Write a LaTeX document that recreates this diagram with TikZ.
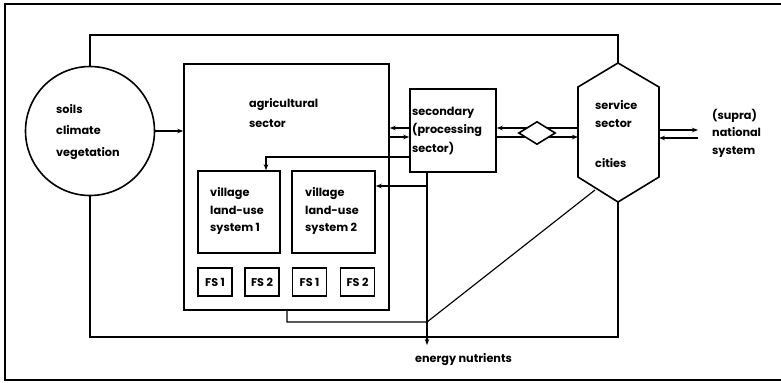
\documentclass[tikz,border=0pt]{standalone}
\usepackage{fontspec}
\setmainfont{Poppins}
\usetikzlibrary{shapes.geometric,arrows.meta}
\begin{document}
\begin{tikzpicture}[x=1bp,y=-1bp,
  box/.style={draw,line width=1.6pt,inner sep=0pt},
  conn/.style={line width=1.15pt},
  arr/.style={conn,-{Stealth[length=6bp,width=4.5bp]}},
  lbl/.style={font=\fontsize{11.3}{20}\selectfont\bfseries,align=left,inner sep=0pt},
  fsbox/.style={box,minimum width=34bp,minimum height=28bp,font=\fontsize{11.3}{12}\selectfont\bfseries}]
\useasboundingbox (0,0) rectangle (781,382);
% frame
\draw[line width=2pt] (781,4) -- (5,4) -- (5,380) -- (781,380);
% circle
\node[draw,line width=1.6pt,circle,minimum size=129bp,inner sep=0pt] (env) at (90,131) {};
\node[lbl,anchor=west,font=\fontsize{11.3}{22}\selectfont\bfseries] (envt) at (56,132) {soils\\climate\\vegetation};
% agricultural sector
\node[box,minimum width=205bp,minimum height=246bp] (agri) at (286.5,187) {};
\node[lbl,anchor=west] (agrit) at (249,113) {agricultural\\sector};
% villages
\node[box,minimum width=82bp,minimum height=82bp] (v1) at (239,212) {};
\node[lbl,anchor=west] (v1t) at (210,211) {village\\[-2.5bp]land-use\\[-2.5bp]system 1};
\node[box,minimum width=83bp,minimum height=82bp] (v2) at (333.5,212) {};
\node[lbl,anchor=west] (v2t) at (305,211) {village\\[-2.5bp]land-use\\[-2.5bp]system 2};
% farming systems
\node[fsbox] (fa) at (215,282) {FS 1};
\node[fsbox] (fb) at (262,282) {FS 2};
\node[fsbox] (fc) at (309.5,282) {FS 1};
\node[fsbox] (fd) at (357.5,282) {FS 2};
% secondary
\node[box,minimum width=86bp,minimum height=83bp] (sec) at (453,130.5) {};
\node[lbl,anchor=west,font=\fontsize{11.3}{19}\selectfont\bfseries] (sect) at (412,131) {secondary\\(processing\\sector)};
% hexagon
\coordinate (ht) at (618,63);
\coordinate (hb) at (618,202);
\draw[line width=1.6pt] (ht) -- (659,87) -- (659,177) -- (hb) -- (578,177) -- (578,87) -- cycle;
\coordinate (hl) at (578,132);
\coordinate (hr) at (659,132);
\coordinate (hdl) at (595,190);
\node[lbl,anchor=west,font=\fontsize{11.3}{19}\selectfont\bfseries] (servt) at (595,114) {service\\sector};
\node[lbl,anchor=west] (cityt) at (595,163) {cities};
% supra
\node[lbl,anchor=west,font=\fontsize{11.3}{17.5}\selectfont\bfseries] (supt) at (712,133) {(supra)\\national\\system};
% connectors
\draw[arr] (env.east) -- (env.east -| agri.west);
\draw[conn] (env.north) |- (ht |- 0,35) -- (ht);
\draw[conn] (env.south) |- (hb |- 0,337) -- (hb);
\draw[arr] (sec.west |- 0,128) -- (agri.east |- 0,128);
\draw[arr] (agri.east |- 0,137) -- (sec.west |- 0,137);
\draw[arr] (sec.west |- 0,157) -| (v1.north -| 266,0);
\coordinate (sb) at (427,172);
\draw[arr] (sb |- 0,186) -- (v2.east |- 0,186);
\coordinate (en) at (427,345);
\draw[arr] (sb) -- (en);
\node[lbl,anchor=north west] (ent) at (415,353) {energy nutrients};
\draw[conn] (agri.south -| 287,0) |- (427,322) -- (hdl);
% secondary <-> service
\draw[arr] (hl |- 0,128) -- (sec.east |- 0,128);
\draw[arr] (sec.east |- 0,137) -- (hl |- 0,137);
\node[draw,line width=1.6pt,diamond,fill=white,minimum width=37bp,minimum height=23bp,inner sep=0pt] (dia) at (537,133) {};
% service <-> supra
\draw[arr] (hr |- 0,130) -- (698,130);
\draw[arr] (698,138) -- (hr |- 0,138);
\end{tikzpicture}
\end{document}
